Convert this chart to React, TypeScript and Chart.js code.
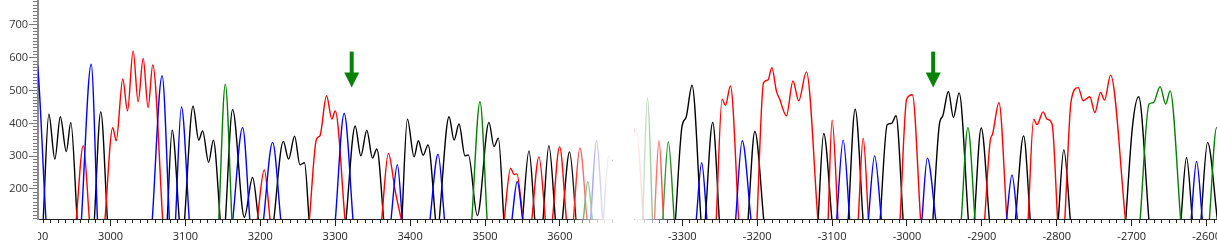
import React, { useEffect, useRef } from 'react';
import { Chart, registerables } from 'chart.js';

Chart.register(...registerables);

type P = [number, number] | null;

// ---- Left panel traces (x in left-panel units) ----
const leftBlack: P[] = [
  [2910, 100], [2917.7, 428], [2925.7, 291], [2933, 420], [2941, 314], [2947, 403], [2955.6, 100], null,
  [2978.3, 100], [2987, 435], [2996, 100], null,
  [3075.6, 100], [3082.3, 379], [3092, 100], null,
  [3098.7, 100], [3110.2, 452], [3117.8, 349], [3123, 377], [3131, 281], [3137.3, 349], [3146.7, 100], null,
  [3153.3, 100], [3163, 442], [3178.7, 114], [3189.7, 235], [3197.8, 100], null,
  [3217.8, 100], [3230.7, 345], [3237.8, 291], [3245.8, 361], [3252.9, 274], [3259, 280], [3265.3, 100], null,
  [3314.2, 100], [3326.7, 392], [3334.2, 301], [3342.2, 379], [3349.8, 294], [3355.6, 322], [3365, 100], null,
  [3388.9, 100], [3396.4, 413], [3405.3, 298], [3411, 347], [3417.3, 303], [3424, 334], [3434.2, 100], null,
  [3438.7, 100], [3452, 420], [3458.7, 349], [3465.3, 398], [3473.3, 301], [3477.8, 304], [3489.8, 119],
  [3505.3, 403], [3512, 329], [3517.8, 355], [3525.3, 100], null,
  [3549.8, 100], [3558.7, 316], [3566.7, 100], null,
  [3577.3, 100], [3585.3, 332], [3594.2, 100], null,
  [3603, 100], [3612.9, 313], [3621.8, 100], null,
  [3657.8, 100], [3665.3, 301], [3669.8, 286], [3679, 337], [3686, 360], [3695, 100],
];
const leftRed: P[] = [
  [2954, 100], [2963.6, 332], [2972, 100], null,
  [2992.4, 100], [3003, 387], [3007.6, 347], [3016.4, 535], [3022.7, 438], [3030.2, 621], [3036.9, 466],
  [3043.6, 598], [3050.2, 448], [3056.4, 578], [3069.8, 100], null,
  [3195.6, 100], [3205.3, 258], [3213.3, 100], null,
  [3265.3, 100], [3275, 352], [3279.6, 362], [3288.4, 484], [3295.6, 413], [3300, 438], [3313.3, 100], null,
  [3361.8, 100], [3371, 308], [3380, 195], [3388.9, 100], null,
  [3525.3, 100], [3534.2, 263], [3539, 244], [3542.5, 246], [3551, 100], null,
  [3562.2, 100], [3572, 298], [3580.9, 100], null,
  [3589.8, 100], [3599.6, 329], [3608.9, 100], null,
  [3617.8, 100], [3626.7, 325], [3636.4, 100],
];
const leftBlue: P[] = [
  [2890, 420], [2900, 610], [2914, 100], null,
  [2961, 100], [2974.2, 580], [2982.7, 100], null,
  [3055.6, 100], [3068.9, 545], [3078.7, 100], null,
  [3086.7, 100], [3094.7, 450], [3105.3, 100], null,
  [3163, 100], [3176.4, 387], [3186.2, 100], null,
  [3204, 100], [3216.4, 342], [3227.6, 100], null,
  [3300, 100], [3312, 430], [3324, 100], null,
  [3374.2, 100], [3383, 274], [3389.8, 100], null,
  [3426.2, 100], [3437.3, 306], [3446.2, 100], null,
  [3535.6, 100], [3543, 223], [3550.7, 100], null,
  [3640.9, 100], [3648.9, 347], [3657.3, 100],
];
const leftGreen: P[] = [
  [3144.4, 100], [3153.3, 519], [3162.2, 100], null,
  [3482.2, 100], [3493.3, 466], [3503, 100], null,
  [3631, 100], [3637.3, 222], [3643.6, 100],
];

// ---- Right panel traces (x in right-panel units) ----
const rightBlack: P[] = [
  [-3309.3, 100], [-3300.3, 392], [-3295, 418], [-3287, 516], [-3274.9, 100], null,
  [-3269.5, 100], [-3259.4, 403], [-3250.4, 100], null,
  [-3212.4, 100], [-3203.1, 375], [-3191, 100], null,
  [-3118.8, 100], [-3111.2, 369], [-3100, 100], null,
  [-3078.6, 100], [-3069.2, 443], [-3058.5, 100], null,
  [-3036, 100], [-3026.4, 396], [-3020.5, 400], [-3014.7, 423], [-3005, 100], null,
  [-2965.6, 100], [-2956.8, 396], [-2952.2, 423], [-2944.7, 497], [-2938, 418], [-2930.4, 493], [-2917.9, 100], null,
  [-2910.3, 100], [-2900.9, 386], [-2889.8, 100], null,
  [-2855.4, 100], [-2844.3, 362], [-2835.3, 100], null,
  [-2798.2, 100], [-2790.6, 320], [-2781.7, 100], null,
  [-2708.1, 100], [-2699.1, 387], [-2690.7, 481], [-2676.8, 100], null,
  [-2634.4, 100], [-2626.8, 296], [-2618.8, 100], null,
  [-2607.7, 100], [-2598.7, 342], [-2585.3, 100],
];
const rightRed: P[] = [
  [-3372, 300], [-3362, 385], [-3351.6, 100], null,
  [-3337.4, 100], [-3331.1, 347], [-3325, 100], null,
  [-3254.8, 100], [-3246.8, 474], [-3242.4, 455], [-3235.7, 514], [-3224.6, 100], null,
  [-3200.4, 100], [-3191.5, 524], [-3185.7, 532], [-3180.4, 570], [-3174.4, 499], [-3170, 474], [-3161, 423],
  [-3152.2, 529], [-3144.6, 469], [-3134.3, 557], [-3118.8, 100], null,
  [-3105.4, 100], [-3100, 410], [-3092, 100], null,
  [-3065.2, 100], [-3058.5, 355], [-3051.3, 100], null,
  [-3009.4, 100], [-3000.4, 474], [-2992.9, 487], [-2981.7, 100], null,
  [-2896.5, 100], [-2888.9, 347], [-2885.8, 367], [-2877.2, 463], [-2866.5, 100], null,
  [-2838.4, 100], [-2830.9, 413], [-2826.4, 396], [-2818.3, 435], [-2813, 413], [-2806.3, 398], [-2798.8, 100], null,
  [-2789.4, 100], [-2780.8, 469], [-2771.4, 509], [-2764.7, 469], [-2755.9, 481], [-2749.2, 433], [-2741.6, 494],
  [-2736.2, 471], [-2728.2, 547], [-2708.1, 100],
];
const rightBlue: P[] = [
  [-3281.6, 100], [-3274.1, 280], [-3266.9, 100], null,
  [-3229, 100], [-3220, 347], [-3208, 100], null,
  [-3094.1, 100], [-3085.2, 349], [-3076.3, 100], null,
  [-3051.8, 100], [-3043.2, 301], [-3033.9, 100], null,
  [-2980.3, 100], [-2972.8, 294], [-2961.2, 100], null,
  [-2867.4, 100], [-2859.8, 243], [-2852.3, 100], null,
  [-2620.9, 100], [-2613.4, 284], [-2605.4, 100],
];
const rightGreen: P[] = [
  [-3353, 100], [-3346.4, 477], [-3339.7, 100], null,
  [-3326.3, 100], [-3318.7, 344], [-3310.6, 100], null,
  [-2927.7, 100], [-2918.7, 387], [-2909, 100], null,
  [-2688.9, 100], [-2676.8, 459], [-2671, 463], [-2662.1, 512], [-2654.5, 459], [-2648.7, 499], [-2634.4, 100], null,
  [-2596.5, 100], [-2586.6, 387], [-2578, 300],
];

// ---- Axes / annotations ----
const leftTickLabels = [2900, 3000, 3100, 3200, 3300, 3400, 3500, 3600];
const rightTickLabels = [-3300, -3200, -3100, -3000, -2900, -2800, -2700, -2600];
const yTickLabels = [200, 300, 400, 500, 600, 700];
const arrowsLeft = [3322];
const arrowsRight = [-2965];
const arrowTipValue = 509;

const OFFSET = 7063.4; // right panel shift onto shared axis
const X_MIN = 2903.2;
const X_MAX = 4477.3;
const Y_MIN = 108.5;
const Y_MAX = 776;
const FADE_OUT: [number, number] = [3614, 3670];
const FADE_IN: [number, number] = [-3364, -3306];

const COLORS = { black: '#000000', red: '#ff0000', blue: '#0000ff', green: '#008000' };
const FONT = { family: "'Open Sans', 'Noto Sans', sans-serif", size: 11 };

function toData(pts: P[], shift: number) {
  const out: { x: number; y: number | null }[] = [];
  let lastX = 0;
  for (const p of pts) {
    if (p) {
      lastX = p[0] + shift;
      out.push({ x: lastX, y: p[1] });
    } else {
      out.push({ x: lastX + 0.01, y: null });
    }
  }
  return out;
}

const xTickValues: number[] = [];
for (let v = 2900; v <= 3680; v += 10) xTickValues.push(v);
for (let v = -3360; v <= -2590; v += 10) xTickValues.push(v + OFFSET);
const yTickValues: number[] = [];
for (let v = 110; v <= 770; v += 10) yTickValues.push(v);

function xLabel(value: number): string {
  if (value < 3700) {
    const r = Math.round(value);
    return leftTickLabels.includes(r) ? String(r) : '';
  }
  const r = Math.round(value - OFFSET);
  return rightTickLabels.includes(r) ? String(r) : '';
}
function yLabel(value: number): string {
  const r = Math.round(value);
  return yTickLabels.includes(r) ? String(r) : '';
}

const fadePlugin = {
  id: 'panelFade',
  afterDraw(chart: any) {
    const { ctx } = chart;
    const xs = chart.scales.x;
    const a = xs.getPixelForValue(FADE_OUT[0]);
    const b = xs.getPixelForValue(FADE_OUT[1]);
    const c = xs.getPixelForValue(FADE_IN[0] + OFFSET);
    const d = xs.getPixelForValue(FADE_IN[1] + OFFSET);
    const h = xs.top + 10;
    ctx.save();
    const g1 = ctx.createLinearGradient(a, 0, b, 0);
    g1.addColorStop(0, 'rgba(255,255,255,0)');
    g1.addColorStop(0.25, 'rgba(255,255,255,0.35)');
    g1.addColorStop(0.5, 'rgba(255,255,255,0.62)');
    g1.addColorStop(0.75, 'rgba(255,255,255,0.85)');
    g1.addColorStop(1, 'rgba(255,255,255,1)');
    ctx.fillStyle = g1;
    ctx.fillRect(a, 0, b - a, h);
    ctx.fillStyle = '#ffffff';
    ctx.fillRect(b, 0, c - b, h);
    const g2 = ctx.createLinearGradient(c, 0, d, 0);
    g2.addColorStop(0, 'rgba(255,255,255,1)');
    g2.addColorStop(0.14, 'rgba(255,255,255,0.88)');
    g2.addColorStop(0.32, 'rgba(255,255,255,0.68)');
    g2.addColorStop(0.59, 'rgba(255,255,255,0.35)');
    g2.addColorStop(0.8, 'rgba(255,255,255,0.13)');
    g2.addColorStop(1, 'rgba(255,255,255,0)');
    ctx.fillStyle = g2;
    ctx.fillRect(c, 0, d - c, h);
    // clip the x labels left of the y axis
    ctx.fillStyle = '#ffffff';
    ctx.fillRect(0, xs.top + 3, chart.chartArea.left, chart.height - xs.top);
    ctx.restore();
  },
};

const arrowPlugin = {
  id: 'arrows',
  afterDatasetsDraw(chart: any) {
    const { ctx } = chart;
    const xs = chart.scales.x;
    const ys = chart.scales.y;
    const tip = ys.getPixelForValue(arrowTipValue);
    const xsList = [...arrowsLeft, ...arrowsRight.map((v) => v + OFFSET)];
    ctx.save();
    ctx.fillStyle = '#0a820a';
    for (const v of xsList) {
      const px = xs.getPixelForValue(v);
      ctx.fillRect(px - 2, tip - 36, 4, 22);
      ctx.beginPath();
      ctx.moveTo(px - 7.5, tip - 15);
      ctx.lineTo(px + 7.5, tip - 15);
      ctx.lineTo(px, tip);
      ctx.closePath();
      ctx.fill();
    }
    ctx.restore();
  },
};

export default function App() {
  const ref = useRef<HTMLCanvasElement>(null);
  useEffect(() => {
    const canvas = ref.current;
    if (!canvas) return;
    const ds = (pts: P[], shift: number, color: string) => ({
      data: toData(pts, shift),
      borderColor: color,
      borderWidth: 1.4,
      pointRadius: 0,
      fill: false,
      spanGaps: false,
      cubicInterpolationMode: 'monotone' as const,
    });
    const isMajorX = (v: number) => xLabel(v) !== '';
    const isMajorY = (v: number) => yLabel(v) !== '';
    const chart = new Chart(canvas, {
      type: 'line',
      data: {
        datasets: [
          ds(leftGreen, 0, COLORS.green),
          ds(leftBlue, 0, COLORS.blue),
          ds(leftRed, 0, COLORS.red),
          ds(leftBlack, 0, COLORS.black),
          ds(rightGreen, OFFSET, COLORS.green),
          ds(rightBlue, OFFSET, COLORS.blue),
          ds(rightRed, OFFSET, COLORS.red),
          ds(rightBlack, OFFSET, COLORS.black),
        ],
      },
      options: {
        animation: false,
        responsive: false,
        devicePixelRatio: 1,
        events: [],
        layout: { padding: 0, autoPadding: false },
        plugins: { legend: { display: false }, tooltip: { enabled: false } },
        scales: {
          x: {
            type: 'linear',
            position: 'bottom',
            min: X_MIN,
            max: X_MAX,
            afterBuildTicks: (s: any) => {
              s.ticks = xTickValues.map((v) => ({ value: v }));
            },
            afterFit: (s: any) => {
              s.height = 26;
              s.paddingLeft = 0;
              s.paddingRight = 0;
            },
            ticks: {
              autoSkip: false,
              maxRotation: 0,
              minRotation: 0,
              padding: 4,
              color: '#222',
              font: FONT,
              callback: (v: any) => xLabel(Number(v)),
            },
            grid: {
              drawOnChartArea: false,
              drawTicks: true,
              tickLength: 7,
              tickWidth: 1,
              tickColor: (c: any) => (c.tick && c.tick.value < X_MIN ? 'rgba(0,0,0,0)' : '#222'),
              tickBorderDash: (c: any) => (c.tick && isMajorX(c.tick.value) ? [] : [3, 10]),
            },
            border: { display: true, color: '#222', width: 1 },
          },
          y: {
            type: 'linear',
            position: 'left',
            min: Y_MIN,
            max: Y_MAX,
            afterBuildTicks: (s: any) => {
              s.ticks = yTickValues.map((v) => ({ value: v }));
            },
            afterFit: (s: any) => {
              s.width = 38;
              s.paddingTop = 0;
              s.paddingBottom = 0;
            },
            ticks: {
              autoSkip: false,
              padding: 1,
              color: '#333',
              font: FONT,
              callback: (v: any) => yLabel(Number(v)),
            },
            grid: {
              drawOnChartArea: false,
              drawTicks: true,
              tickLength: 9,
              tickWidth: 1,
              tickColor: '#7a7a7a',
              tickBorderDash: (c: any) => (c.tick && isMajorY(c.tick.value) ? [] : [4, 4]),
              tickBorderDashOffset: (c: any) => (c.tick && isMajorY(c.tick.value) ? 0 : 4),
            },
            border: { display: true, color: '#8a8a8a', width: 2 },
          },
        },
      },
      plugins: [arrowPlugin, fadePlugin],
    } as any);
    return () => chart.destroy();
  }, []);
  return (
    <div style={{ position: 'fixed', left: 0, top: 0, width: 1217, height: 245, background: '#ffffff' }}>
      <canvas ref={ref} width={1217} height={245} style={{ display: 'block', width: 1217, height: 245 }} />
    </div>
  );
}
